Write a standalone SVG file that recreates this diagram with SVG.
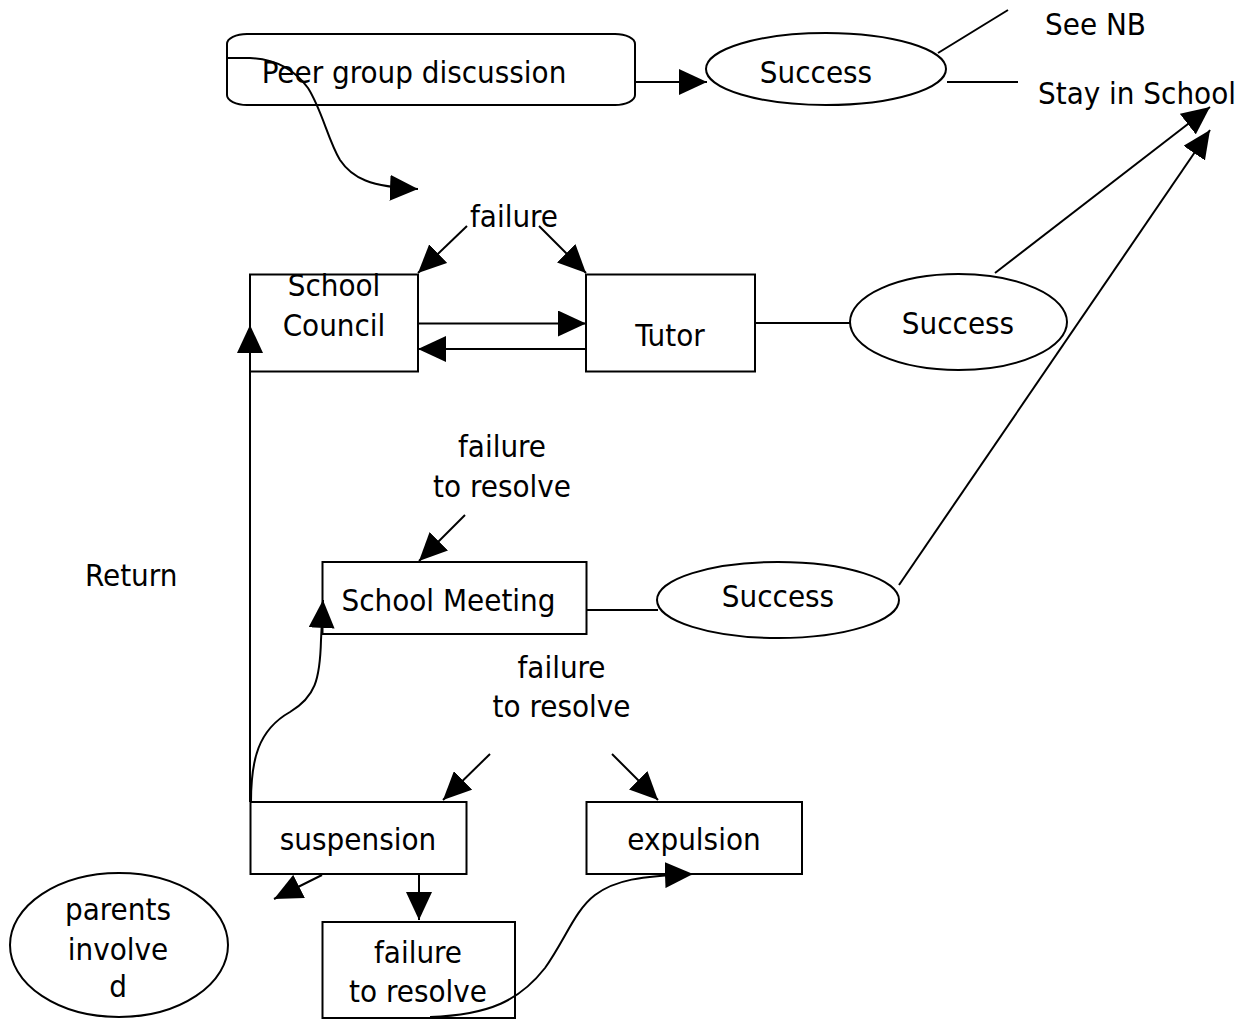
<svg xmlns="http://www.w3.org/2000/svg" width="1249" height="1019" viewBox="0 0 1249 1019">
<style>
  .box { fill: #fff; stroke: #000; stroke-width: 2; }
  .ln { fill: none; stroke: #000; stroke-width: 2; }
  .arr { fill: none; stroke: #000; stroke-width: 2; marker-end: url(#ah); }
  text { font-family: "DejaVu Sans", Verdana, sans-serif; font-size: 31px; font-stretch: condensed; fill: #000; }
  .c { text-anchor: middle; }
</style>
<defs>
  <marker id="ah" markerUnits="userSpaceOnUse" markerWidth="28" markerHeight="26" refX="28" refY="13" orient="auto" viewBox="0 0 28 26">
    <path d="M0,0 L28,13 L0,26 Z" fill="#000"/>
  </marker>
</defs>
<rect width="1249" height="1019" fill="#fff"/>

<g id="peer">
  <rect class="box" x="227" y="34" width="408" height="71" rx="20" ry="10"/>
  <text class="c" x="414" y="83">Peer group discussion</text>
</g>
<g id="success1">
  <ellipse class="box" cx="826" cy="69" rx="120" ry="36"/>
  <text class="c" x="816" y="83">Success</text>
</g>
<g id="seenb"><text x="1045" y="35">See NB</text></g>
<g id="stay"><text x="1038" y="104">Stay in School</text></g>
<g id="failure1"><text class="c" x="514" y="227">failure</text></g>
<g id="council">
  <rect class="box" x="250" y="274.5" width="168" height="97"/>
  <text class="c" x="334" y="296">School</text>
  <text class="c" x="334" y="336">Council</text>
</g>
<g id="tutor">
  <rect class="box" x="586" y="274.5" width="169" height="97"/>
  <text class="c" x="670" y="346">Tutor</text>
</g>
<g id="success2">
  <ellipse class="box" cx="958.5" cy="322" rx="108.5" ry="48"/>
  <text class="c" x="958" y="334">Success</text>
</g>
<g id="failure2">
  <text class="c" x="502" y="457">failure</text>
  <text class="c" x="502" y="497">to resolve</text>
</g>
<g id="return"><text x="85" y="586">Return</text></g>
<g id="meeting">
  <rect class="box" x="322.5" y="562" width="264" height="72"/>
  <text class="c" x="448.5" y="610.5">School Meeting</text>
</g>
<g id="success3">
  <ellipse class="box" cx="778" cy="600" rx="121" ry="38"/>
  <text class="c" x="778" y="607">Success</text>
</g>
<g id="failure3">
  <text class="c" x="561.5" y="678">failure</text>
  <text class="c" x="561.5" y="717">to resolve</text>
</g>
<g id="suspension">
  <rect class="box" x="250.5" y="802" width="216" height="72"/>
  <text class="c" x="358" y="850">suspension</text>
</g>
<g id="expulsion">
  <rect class="box" x="586.5" y="802" width="215.5" height="72"/>
  <text class="c" x="694" y="850">expulsion</text>
</g>
<g id="failurebox">
  <rect class="box" x="322.5" y="922" width="192.5" height="96"/>
  <text class="c" x="418" y="962.5">failure</text>
  <text class="c" x="418" y="1001.5">to resolve</text>
</g>
<g id="parents">
  <ellipse class="box" cx="119" cy="945" rx="109" ry="72"/>
  <text class="c" x="118" y="920">parents</text>
  <text class="c" x="118" y="960">involve</text>
  <text class="c" x="118" y="997">d</text>
</g>

<g id="connectors">
  <path class="arr" d="M227,58 L250,58 C275,59 295,70 308,88 C322,110 328,140 340,160 C352,178 370,187 418,189"/>
  <path class="arr" d="M636,82 L707,82"/>
  <path class="ln" d="M938,53 L1008,10"/>
  <path class="ln" d="M947,82 L1018,82"/>
  <path class="arr" d="M467,226 L418,273"/>
  <path class="arr" d="M539,226 L586,273"/>
  <path class="arr" d="M418,323.5 L586,323.5"/>
  <path class="arr" d="M586,349 L418,349"/>
  <path class="ln" d="M755,323 L850,323"/>
  <path class="arr" d="M995,273 L1210,107"/>
  <path class="arr" d="M899,585 L1210,130"/>
  <path class="arr" d="M250,802 L250,325"/>
  <path class="arr" d="M465,515 L419,561"/>
  <path class="ln" d="M587,610 L658,610"/>
  <path class="arr" d="M251,802 C251,760 258,730 290,712 C315,697 320,680 321,640 L323,600"/>
  <path class="arr" d="M490,754 L443,800"/>
  <path class="arr" d="M612,754 L658,800"/>
  <path class="arr" d="M322,875 L274,899"/>
  <path class="arr" d="M419,874 L419,920"/>
  <path class="arr" d="M430,1017 C490,1015 520,1000 545,968 C565,940 575,910 595,895 C615,880 640,876 693,874"/>
</g>
</svg>
